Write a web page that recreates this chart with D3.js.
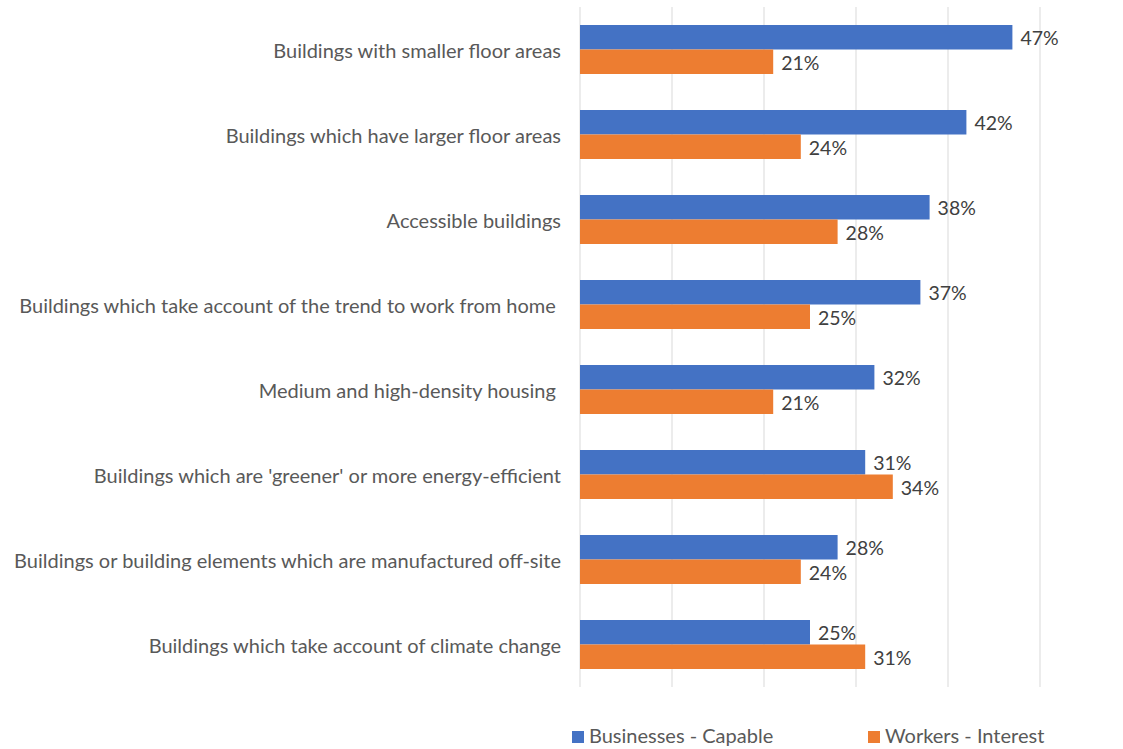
<!DOCTYPE html>
<html>
<head>
<meta charset="utf-8">
<script src="https://cdn.jsdelivr.net/npm/d3@7"></script>
<style>
  html, body { margin: 0; padding: 0; background: #fff; }
  svg { display: block; font-family: Lato, "Open Sans", sans-serif; }
</style>
</head>
<body>
<svg id="chart" width="1123" height="749"></svg>
<script>
// Building types, top to bottom
const categories = [
  "Buildings with smaller floor areas",
  "Buildings which have larger floor areas",
  "Accessible buildings",
  "Buildings which take account of the trend to work from home ",
  "Medium and high-density housing ",
  "Buildings which are 'greener' or more energy-efficient",
  "Buildings or building elements which are manufactured off-site",
  "Buildings which take account of climate change"
];
const seriesNames = ["Businesses - Capable", "Workers - Interest"];
const businessesCapable = [47, 42, 38, 37, 32, 31, 28, 25];
const workersInterest = [21, 24, 28, 25, 21, 34, 24, 31];
const xTicks = [0, 10, 20, 30, 40, 50];
const colors = ["#4472C4", "#ED7D31"];

const svg = d3.select("#chart");
const plot = { left: 580, right: 1040, top: 7, bottom: 687 };

const x = d3.scaleLinear().domain([0, 50]).range([plot.left, plot.right]);
const y = d3.scaleBand().domain(categories).range([plot.top, plot.bottom]).padding(0);
const inner = d3.scaleBand().domain(seriesNames).range([0, 49]);
const groupOffset = (y.bandwidth() - 49) / 2;

// vertical gridlines
svg.append("g")
  .selectAll("line")
  .data(xTicks)
  .join("line")
  .attr("x1", d => x(d)).attr("x2", d => x(d))
  .attr("y1", plot.top).attr("y2", plot.bottom)
  .attr("stroke", "#D9D9D9").attr("stroke-width", 1);

// category labels
svg.append("g")
  .selectAll("text")
  .data(categories)
  .join("text")
  .attr("x", 561)
  .attr("y", d => y(d) + y.bandwidth() / 2 + 3)
  .attr("text-anchor", "end")
  .attr("dominant-baseline", "middle")
  .attr("fill", "#595959")
  .attr("font-size", 20)
  .style("white-space", "pre")
  .text(d => d);

const rows = categories.map((c, i) => ({
  category: c,
  values: [
    { series: seriesNames[0], value: businessesCapable[i], color: colors[0] },
    { series: seriesNames[1], value: workersInterest[i], color: colors[1] }
  ]
}));

const groups = svg.append("g")
  .selectAll("g")
  .data(rows)
  .join("g")
  .attr("transform", d => `translate(0,${y(d.category) + groupOffset})`);

groups.selectAll("rect")
  .data(d => d.values)
  .join("rect")
  .attr("x", x(0))
  .attr("y", d => inner(d.series))
  .attr("width", d => x(d.value) - x(0))
  .attr("height", inner.bandwidth())
  .attr("fill", d => d.color);

groups.selectAll("text")
  .data(d => d.values)
  .join("text")
  .attr("x", d => x(d.value) + 8)
  .attr("y", d => inner(d.series) + inner.bandwidth() / 2 + 3)
  .attr("dominant-baseline", "middle")
  .attr("fill", "#404040")
  .attr("font-size", 19.5)
  .text(d => d.value + "%");

// legend
const legendX = [572, 868];
const legend = svg.append("g")
  .selectAll("g")
  .data(seriesNames)
  .join("g")
  .attr("transform", (d, i) => `translate(${legendX[i]},737)`);
legend.append("rect")
  .attr("x", 0).attr("y", -6).attr("width", 12).attr("height", 12)
  .attr("fill", (d, i) => colors[i]);
legend.append("text")
  .attr("x", 17).attr("y", 1)
  .attr("dominant-baseline", "middle")
  .attr("fill", "#595959")
  .attr("font-size", 20)
  .text(d => d);
</script>
</body>
</html>
